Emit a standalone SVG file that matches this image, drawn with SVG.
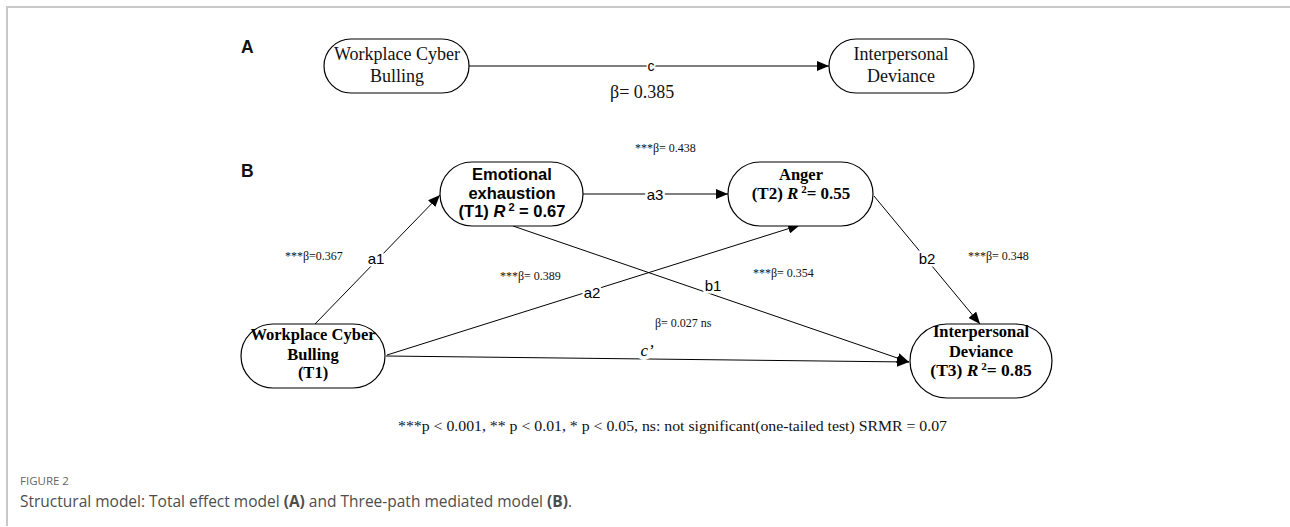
<svg xmlns="http://www.w3.org/2000/svg" width="1290" height="527" viewBox="0 0 1290 527">
<style>
.node{fill:#fff;stroke:#000;stroke-width:1.2}
.serif{font-family:"Liberation Serif","Times New Roman",serif}
.sans{font-family:"Liberation Sans",Arial,sans-serif}
.nA{font-size:18px;fill:#111;text-anchor:middle}
.nb{font-size:16.5px;font-weight:bold;fill:#000;text-anchor:middle}
.edge{stroke:#000;stroke-width:1;fill:none}
.edgeA{stroke:#555;stroke-width:1.6;fill:none}
.lbl{font-size:15px;fill:#000;text-anchor:middle;stroke:#fff;stroke-width:5;paint-order:stroke;stroke-linejoin:round}
.coef{font-size:12px;fill:#111}
.panel{font-size:17.5px;font-weight:bold;fill:#111}
.cap{font-family:"Open Sans","Noto Sans",sans-serif}
</style>
<defs>
<marker id="arr" viewBox="0 0 12 10" refX="12" refY="5" markerWidth="12" markerHeight="10" markerUnits="userSpaceOnUse" orient="auto">
<path d="M0,0 L12,5 L0,10 Z" fill="#000"/>
</marker>
</defs>
<rect x="0" y="0" width="1290" height="527" fill="#fff"/>
<path d="M7,526 V7 H1290" fill="none" stroke="#c8c8c8" stroke-width="2"/>

<text class="sans panel" x="241" y="53">A</text>
<text class="sans panel" x="241" y="177">B</text>

<g id="connectors">
<line class="edgeA" x1="469" y1="66" x2="829" y2="66" marker-end="url(#arr)"/>
<line class="edge" x1="315" y1="324" x2="440" y2="195" marker-end="url(#arr)"/>
<line class="edge" x1="387" y1="355" x2="800" y2="225" marker-end="url(#arr)"/>
<line class="edge" x1="583" y1="194" x2="728" y2="194" marker-end="url(#arr)"/>
<line class="edge" x1="513" y1="226" x2="909" y2="362" marker-end="url(#arr)"/>
<line class="edge" x1="874" y1="196" x2="980" y2="324" marker-end="url(#arr)"/>
<line class="edge" x1="386" y1="356" x2="909" y2="362" marker-end="url(#arr)"/>
<text class="sans lbl" x="651" y="71" style="font-size:14px;stroke-width:3">c</text>
<text class="sans lbl" x="376" y="264">a1</text>
<text class="sans lbl" x="592" y="298">a2</text>
<text class="sans lbl" x="655" y="200">a3</text>
<text class="sans lbl" x="713" y="291">b1</text>
<text class="sans lbl" x="927" y="264">b2</text>
<text class="serif lbl" x="647" y="356" style="font-size:17px;font-style:italic;stroke-width:8">c’</text>
</g>

<g id="coefficients">
<text class="serif" x="610" y="98" font-size="18" fill="#111">β= 0.385</text>
<text class="serif coef" x="285" y="260">***β=0.367</text>
<text class="serif coef" x="500" y="280">***β= 0.389</text>
<text class="serif coef" x="635" y="152">***β= 0.438</text>
<text class="serif coef" x="753" y="277">***β= 0.354</text>
<text class="serif coef" x="968" y="260">***β= 0.348</text>
<text class="serif coef" x="655" y="327">β= 0.027 ns</text>
</g>

<g id="nodeA1">
<rect class="node" x="324" y="39" width="145" height="54" rx="27"/>
<text class="serif nA" x="397" y="60">Workplace Cyber</text>
<text class="serif nA" x="397" y="82">Bulling</text>
</g>
<g id="nodeA2">
<rect class="node" x="829" y="39" width="145" height="54" rx="27"/>
<text class="serif nA" x="901" y="60">Interpersonal</text>
<text class="serif nA" x="901" y="82">Deviance</text>
</g>

<g id="nodeEE">
<rect class="node" x="440" y="162" width="143" height="64" rx="32"/>
<text class="sans nb" x="512" y="180">Emotional</text>
<text class="sans nb" x="512" y="199">exhaustion</text>
<text class="sans nb" x="512" y="217">(T1) <tspan font-style="italic">R</tspan><tspan font-size="11" dy="-6"> 2</tspan><tspan dy="6"> = 0.67</tspan></text>
</g>
<g id="nodeAnger">
<rect class="node" x="728" y="162" width="145" height="64" rx="32"/>
<text class="serif nb" x="801" y="180">Anger</text>
<text class="serif nb" x="801" y="199" style="font-size:17px">(T2) <tspan font-style="italic">R</tspan><tspan font-size="11" dy="-6"> 2</tspan><tspan dy="6">= 0.55</tspan></text>
</g>
<g id="nodeWCB">
<rect class="node" x="241" y="324" width="144" height="64" rx="32"/>
<text class="serif nb" x="313" y="340">Workplace Cyber</text>
<text class="serif nb" x="313" y="360">Bulling</text>
<text class="serif nb" x="313" y="378">(T1)</text>
</g>
<g id="nodeID">
<rect class="node" x="910" y="324" width="142" height="74" rx="37"/>
<text class="serif nb" x="981" y="337">Interpersonal</text>
<text class="serif nb" x="981" y="357">Deviance</text>
<text class="serif nb" x="981" y="376" style="font-size:17.5px">(T3)  <tspan font-style="italic">R</tspan><tspan font-size="11" dy="-6"> 2</tspan><tspan dy="6">= 0.85</tspan></text>
</g>

<text class="serif" x="398" y="431" font-size="14.5" fill="#111" textLength="549" lengthAdjust="spacingAndGlyphs">***p &lt; 0.001, ** p &lt; 0.01, * p &lt; 0.05, ns: not significant(one-tailed test) SRMR = 0.07</text>

<text class="cap" x="20" y="485" font-size="11.5" fill="#666">FIGURE 2</text>
<text class="cap" x="20" y="507" font-size="15.5" fill="#4d4d4d">Structural model: Total effect model <tspan font-weight="bold">(A)</tspan> and Three-path mediated model <tspan font-weight="bold">(B)</tspan>.</text>
</svg>
